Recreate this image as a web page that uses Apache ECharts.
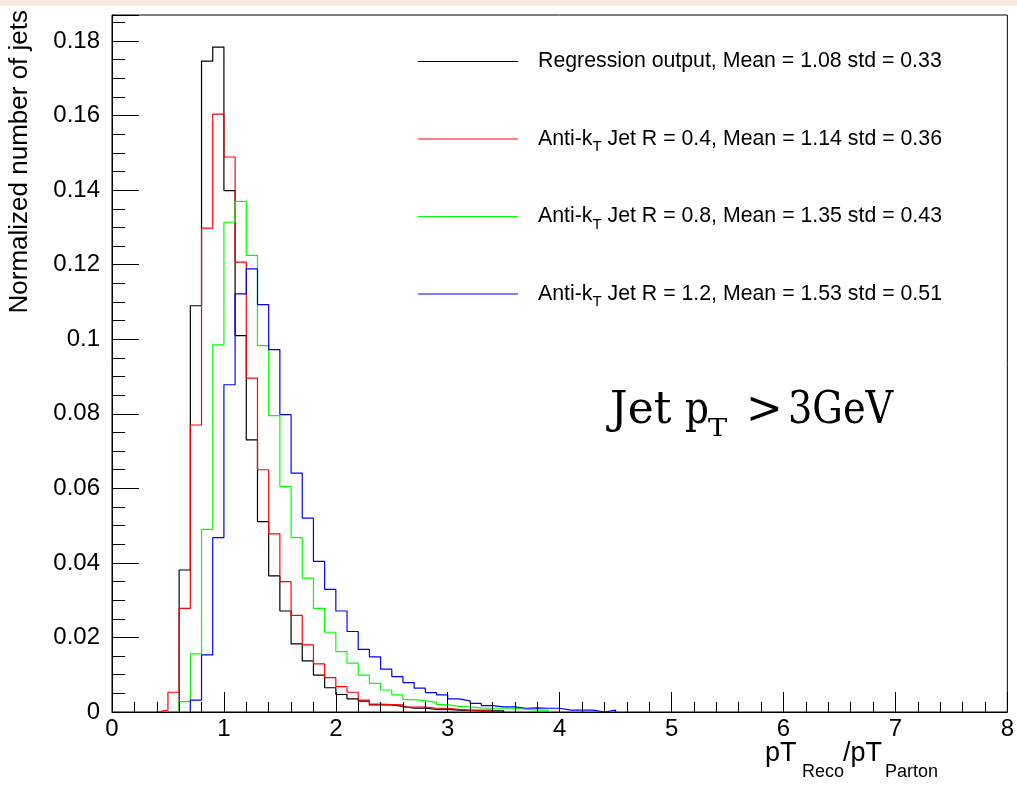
<!DOCTYPE html>
<html>
<head>
<meta charset="utf-8">
<title>pT response</title>
<script src="https://cdn.jsdelivr.net/npm/echarts@6/dist/echarts.min.js"></script>
<style>
  html, body { margin: 0; padding: 0; background: #fff; }
  #chart { width: 1017px; height: 793px; }
</style>
</head>
<body>
<div id="chart"></div>
<script>
// bin contents, 0.1 wide bins starting at 0.0 (bins above 4.5 are empty)
var binWidth = 0.1;
var regression = [0, 0, 0, 0, 0, 0, 0.0381, 0.109, 0.1746, 0.1784,
  0.1399, 0.101, 0.073, 0.0511, 0.0365, 0.0271, 0.0183, 0.0137, 0.0099, 0.0065,
  0.0047, 0.0035, 0.0029, 0.0019, 0.0019, 0.0015, 0.0010, 0.0010, 0.0007, 0.0007,
  0.0005, 0.0004, 0.0003, 0.0003, 0.0003, 0, 0, 0, 0, 0,
  0, 0, 0, 0, 0, 0];
var antiKt04 = [0, 0, 0, 0, 0.0005, 0.0053, 0.0278, 0.077, 0.1298, 0.1604,
  0.1489, 0.1207, 0.0896, 0.065, 0.0478, 0.035, 0.0259, 0.018, 0.0129, 0.0092,
  0.0068, 0.0053, 0.0032, 0.0021, 0.002, 0.0019, 0.0013, 0.0013, 0.001, 0.001,
  0.0007, 0.0005, 0.0005, 0.0005, 0, 0, 0, 0, 0, 0,
  0, 0, 0, 0, 0, 0];
var antiKt08 = [0, 0, 0, 0, 0, 0, 0.0028, 0.0156, 0.049, 0.0985,
  0.1314, 0.137, 0.1225, 0.0983, 0.0795, 0.0605, 0.0468, 0.0359, 0.0278, 0.0214,
  0.0162, 0.0131, 0.0099, 0.0077, 0.0059, 0.0046, 0.0033, 0.003, 0.0026, 0.002,
  0.0015, 0.0014, 0.0011, 0.001, 0.001, 0.001, 0.0007, 0.0005, 0.0005, 0,
  0, 0, 0, 0, 0, 0];
var antiKt12 = [0, 0, 0, 0, 0, 0, 0, 0.0032, 0.0153, 0.0468,
  0.0878, 0.1122, 0.1189, 0.1093, 0.0972, 0.0798, 0.0641, 0.052, 0.0404, 0.0329,
  0.0271, 0.0216, 0.0168, 0.0148, 0.0115, 0.0095, 0.0079, 0.0064, 0.0052, 0.0046,
  0.0035, 0.003, 0.0023, 0.0017, 0.0014, 0.0014, 0.001, 0.0011, 0.001, 0.001,
  0.0005, 0.0005, 0.0005, 0, 0.0005, 0];

var labels = ['Regression output', 'Anti-kT Jet R = 0.4', 'Anti-kT Jet R = 0.8', 'Anti-kT Jet R = 1.2'];
var means = [1.08, 1.14, 1.35, 1.53];
var stds = [0.33, 0.36, 0.43, 0.51];
var colors = ['#000000', '#ff0000', '#00ff00', '#0000ff'];
var hists = [regression, antiKt04, antiKt08, antiKt12];

var FONT = 'Liberation Sans, Arial, Helvetica, sans-serif';
var SERIF = 'DejaVu Serif, serif';

function r2(v) { return Math.round(v * 1000) / 1000; }

// step outline of a histogram, from first to last filled bin
function histPoints(vals) {
  var first = 0;
  while (vals[first] === 0) first++;
  var last = vals.length - 1;
  while (vals[last] === 0) last--;
  var pts = [[r2(first * binWidth), 0]];
  for (var i = first; i <= last; i++) pts.push([r2(i * binWidth), vals[i]]);
  pts.push([r2((last + 1) * binWidth), 0]);
  return pts;
}

var names = labels.map(function (l, i) {
  return l + ', Mean = ' + means[i].toFixed(2) + ' std = ' + stds[i].toFixed(2);
});

var series = hists.map(function (h, i) {
  return {
    name: names[i],
    type: 'line',
    step: 'end',
    symbol: 'none',
    data: histPoints(h),
    lineStyle: { color: colors[i], width: 1.2 },
    itemStyle: { color: colors[i] },
    z: 2
  };
});

function txt(x, y, text, size, family, extra) {
  var el = { type: 'text', x: x, y: y,
    style: { text: text, fontSize: size, fontFamily: family, fill: '#000', align: 'left', verticalAlign: 'middle' } };
  if (extra) for (var k in extra) el[k] = extra[k];
  return el;
}

var myChart = echarts.init(document.getElementById('chart'));
var option = {
  backgroundColor: '#ffffff',
  animation: false,
  grid: {
    left: 112, right: 9, top: 15, bottom: 81,
    show: true, borderColor: '#000', borderWidth: 1
  },
  legend: {
    orient: 'vertical',
    left: 418,
    top: 46,
    padding: 0,
    icon: 'rect',
    itemWidth: 100,
    itemHeight: 1,
    itemGap: 46.5,
    data: names,
    formatter: function (name) {
      if (name.indexOf('Anti-kT') === 0) {
        return '{n|Anti-k}{s|T}{n|' + name.slice(7) + '}';
      }
      return '{n|' + name + '}{s| }';
    },
    textStyle: {
      color: '#000',
      padding: [0, 0, 0, 15],
      rich: {
        n: { fontSize: 21.3, fontFamily: FONT, color: '#000', lineHeight: 31 },
        s: { fontSize: 15, fontFamily: FONT, color: '#000', lineHeight: 15,
             padding: [16, 0, 0, 0], verticalAlign: 'top' }
      }
    }
  },
  xAxis: {
    type: 'value',
    min: 0, max: 8, interval: 1,
    z: 5,
    axisLine: { show: true, lineStyle: { color: '#000', width: 1 } },
    axisTick: { show: true, inside: true, length: 20, lineStyle: { color: '#000' } },
    minorTick: { show: true, splitNumber: 5, length: 10, lineStyle: { color: '#000' } },
    splitLine: { show: false },
    axisLabel: { color: '#000', fontSize: 24, fontFamily: FONT, margin: 5 }
  },
  yAxis: {
    type: 'value',
    min: 0, max: 0.187, interval: 0.02,
    z: 5,
    axisLine: { show: true, lineStyle: { color: '#000', width: 1 } },
    axisTick: { show: true, inside: true, length: 27, lineStyle: { color: '#000' } },
    minorTick: { show: true, splitNumber: 4, length: 13, lineStyle: { color: '#000' } },
    splitLine: { show: false },
    axisLabel: { color: '#000', fontSize: 24, fontFamily: FONT, margin: 12, showMaxLabel: false }
  },
  graphic: [
    { type: 'rect', shape: { x: 0, y: 0, width: 1017, height: 6 }, style: { fill: '#f5ebe1' }, silent: true },
    { type: 'text', x: 20, y: 10, rotation: Math.PI / 2,
      style: { text: 'Normalized number of jets', fontSize: 26, fontFamily: FONT, fill: '#000',
               align: 'right', verticalAlign: 'middle' } },
    // x axis title
    txt(765, 754, 'pT', 27, FONT),
    txt(802, 772, 'Reco', 18, FONT),
    txt(843, 754, '/pT', 27, FONT),
    txt(885, 772, 'Parton', 18, FONT),
    // annotation
    txt(610, 412, 'Jet', 44, SERIF),
    txt(685, 412, 'p', 44, SERIF, { scaleX: 0.85 }),
    txt(708, 430, 'T', 24, SERIF, { scaleX: 1.2 }),
    txt(746, 412, '>', 44, SERIF),
    txt(788, 412, '3GeV', 44, SERIF, { scaleX: 0.87 })
  ],
  series: series
};
myChart.setOption(option);
</script>
</body>
</html>
